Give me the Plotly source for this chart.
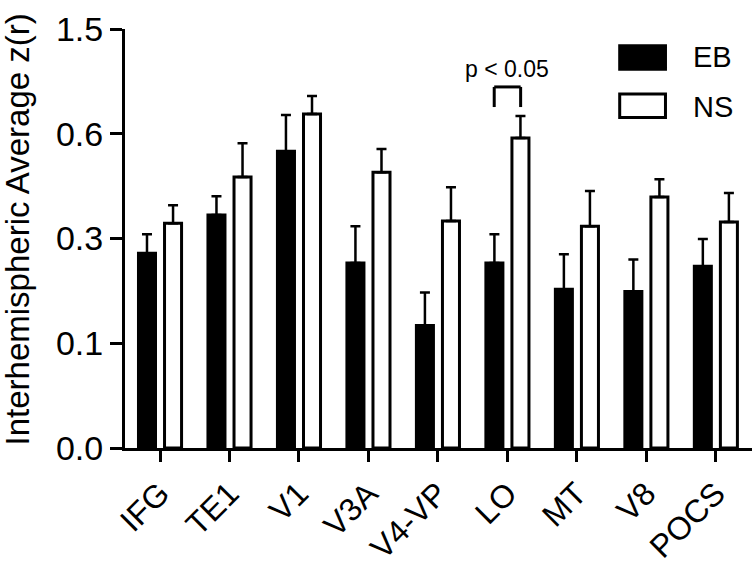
import numpy as np
import plotly.graph_objects as go

regions = ["IFG", "TE1", "V1", "V3A", "V4-VP", "LO", "MT", "V8", "POCS"]
eb_mean = [0.272, 0.367, 0.550, 0.253, 0.134, 0.253, 0.203, 0.199, 0.247]
eb_sem = [0.040, 0.054, 0.211, 0.082, 0.063, 0.059, 0.067, 0.061, 0.052]
ns_mean = [0.344, 0.476, 0.769, 0.490, 0.350, 0.588, 0.335, 0.419, 0.347]
ns_sem = [0.051, 0.097, 0.155, 0.066, 0.097, 0.164, 0.101, 0.051, 0.083]

# segmented y scale: every labelled tick is the same distance apart
y_ticks = [0.0, 0.1, 0.3, 0.6, 1.5]
y_ticktext = ["0.0", "0.1", "0.3", "0.6", "1.5"]


def seg(v):
    return np.interp(v, y_ticks, np.arange(len(y_ticks)))


FONT = "Arial, Liberation Sans, sans-serif"

fig = go.Figure()


def add_group(mean, sem, fill, offset, name):
    mean = np.array(mean)
    top = seg(mean + np.array(sem))
    fig.add_trace(go.Bar(
        x=regions, y=seg(mean), name=name,
        offset=offset, width=0.245,
        marker=dict(color=fill, line=dict(color="black", width=3)),
        error_y=dict(type="data", symmetric=False,
                     array=top - seg(mean), arrayminus=[0] * len(mean),
                     color="black", thickness=2.5, width=5),
        showlegend=False,
    ))


add_group(eb_mean, eb_sem, "black", -0.31, "EB")
add_group(ns_mean, ns_sem, "white", 0.065, "NS")

# legend drawn by hand so the swatches can be large
fig.add_shape(type="rect", xref="paper", yref="paper", x0=0.789, x1=0.862, y0=0.904, y1=0.960,
              fillcolor="black", line=dict(color="black", width=3))
fig.add_shape(type="rect", xref="paper", yref="paper", x0=0.789, x1=0.862, y0=0.789, y1=0.845,
              fillcolor="white", line=dict(color="black", width=3))
fig.add_annotation(text="EB", xref="paper", yref="paper", x=0.902, y=0.934, xanchor="left",
                   yanchor="middle", showarrow=False, font=dict(size=29, color="black", family=FONT))
fig.add_annotation(text="NS", xref="paper", yref="paper", x=0.902, y=0.814, xanchor="left",
                   yanchor="middle", showarrow=False, font=dict(size=29, color="black", family=FONT))

# significance bracket over LO
fig.add_shape(type="line", x0=4.81, x1=4.81, y0=3.255, y1=3.447, line=dict(color="black", width=3))
fig.add_shape(type="line", x0=4.81, x1=5.19, y0=3.447, y1=3.447, line=dict(color="black", width=3))
fig.add_shape(type="line", x0=5.19, x1=5.19, y0=3.255, y1=3.447, line=dict(color="black", width=3))
fig.add_annotation(text="p < 0.05", x=5, y=3.62, showarrow=False, xanchor="center", yanchor="middle",
                   font=dict(size=23, color="black", family=FONT))

# y title
fig.add_annotation(text="Interhemispheric Average z(r)", xref="paper", yref="paper",
                   x=-0.172, y=0.522, textangle=-90, showarrow=False,
                   xanchor="center", yanchor="middle",
                   font=dict(size=33, color="black", family=FONT))

fig.update_layout(
    width=756, height=563,
    margin=dict(l=125, r=4, t=29, b=115, autoexpand=False),
    plot_bgcolor="white", paper_bgcolor="white",
    font=dict(family=FONT, color="black"),
    barmode="overlay",
    xaxis=dict(range=[-0.504, 8.52], showline=True, linecolor="black", linewidth=3,
               ticks="outside", ticklen=11, tickwidth=2.5, tickcolor="black",
               tickangle=-45, tickfont=dict(size=32), showgrid=False, zeroline=False,
               automargin=False),
    yaxis=dict(range=[0, 4], tickvals=list(range(len(y_ticks))), ticktext=y_ticktext,
               showline=True, linecolor="black", linewidth=3,
               ticks="outside", ticklen=12, tickwidth=2.5, tickcolor="black",
               tickfont=dict(size=34), showgrid=False, zeroline=False, automargin=False),
)

# the page's default body margin would push the figure 8px right and down
fig.write_html("out.html", config={"displayModeBar": False},
               post_script="document.body.style.margin='0';")
